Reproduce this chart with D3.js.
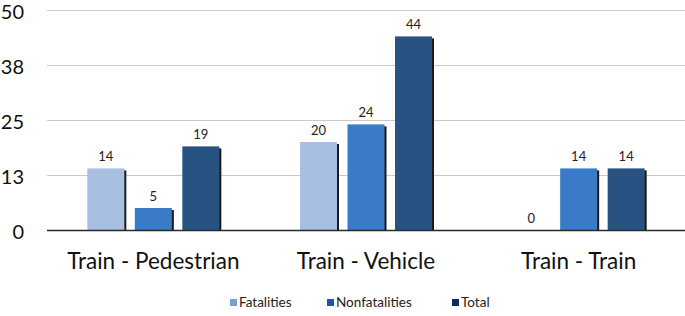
<!DOCTYPE html>
<html><head><meta charset="utf-8">
<script src="https://cdn.jsdelivr.net/npm/d3@7"></script>
<style>body{margin:0;background:#fff}svg{display:block}text{font-family:Lato,"Open Sans",sans-serif}</style>
</head><body><svg id="c" width="685" height="316"></svg>
<script>
const categories = ["Train - Pedestrian", "Train - Vehicle", "Train - Train"];
const seriesNames = ["Fatalities", "Nonfatalities", "Total"];
const fatalities = [14, 20, 0];
const nonfatalities = [5, 24, 14];
const totals = [19, 44, 14];
const tickValues = [0, 12.5, 25, 37.5, 50];
const tickLabels = ["0", "13", "25", "38", "50"];

const barColors = ["#a7bfe0", "#3a7bc8", "#285281"];
const legendColors = ["#7e9fd6", "#1f50b5", "#122b5e"];
const series = [fatalities, nonfatalities, totals];

const svg = d3.select("#c");
const plotL = 47, plotR = 685, plotT = 10, plotB = 230;

const x = d3.scaleBand().domain(categories).range([plotL, plotR]).padding(0);
const xi = d3.scaleBand().domain(seriesNames).range([-66, 66]).paddingInner(0.221).paddingOuter(0);
const y = d3.scaleLinear().domain([0, 50]).range([plotB, plotT]);

// gridlines
svg.append("g").selectAll("line").data(tickValues.filter(v => v > 0)).join("line")
  .attr("x1", plotL).attr("x2", plotR)
  .attr("y1", d => Math.round(y(d)) + 0.5).attr("y2", d => Math.round(y(d)) + 0.5)
  .attr("stroke", "#c9c9c9").attr("stroke-width", 1.2);

// y tick labels
const yAxis = d3.axisLeft(y).tickValues(tickValues).tickFormat((d, i) => tickLabels[i]).tickSize(0).tickPadding(0);
const ya = svg.append("g").attr("transform", "translate(24,1)").call(yAxis);
ya.select(".domain").remove();
ya.selectAll("text").attr("font-size", 20).attr("fill", "#111").attr("dy", "0.35em")
  .style("font-family", "Lato,'Open Sans',sans-serif");

// bars
const rows = [];
categories.forEach((c, ci) => seriesNames.forEach((s, si) => rows.push({c, s, si, v: series[si][ci]})));
const bx = d => x(d.c) + x.bandwidth() / 2 + xi(d.s);
const g = svg.append("g");
g.selectAll("rect.sh").data(rows.filter(d => d.v > 0)).join("rect").attr("class", "sh")
  .attr("x", d => bx(d) + 2).attr("y", d => y(d.v) + 2)
  .attr("width", xi.bandwidth()).attr("height", d => plotB - y(d.v) - 2)
  .attr("fill", "#1b1b1b");
g.selectAll("rect.b").data(rows.filter(d => d.v > 0)).join("rect").attr("class", "b")
  .attr("x", d => bx(d)).attr("y", d => y(d.v))
  .attr("width", xi.bandwidth()).attr("height", d => plotB - y(d.v))
  .attr("fill", d => barColors[d.si]);

// value labels
g.selectAll("text.v").data(rows).join("text").attr("class", "v")
  .attr("x", d => bx(d) + xi.bandwidth() / 2).attr("y", d => y(d.v) - 7)
  .attr("text-anchor", "middle").attr("font-size", 13).attr("fill", "#222")
  .text(d => d.v);

// baseline
svg.append("line").attr("x1", plotL).attr("x2", plotR).attr("y1", plotB + 0.5).attr("y2", plotB + 0.5)
  .attr("stroke", "#2a2a2a").attr("stroke-width", 1.3);

// category labels
const xAxis = d3.axisBottom(x).tickSize(0).tickPadding(0);
const xa = svg.append("g").attr("transform", `translate(0,${plotB})`).call(xAxis);
xa.select(".domain").remove();
xa.selectAll("text").attr("font-size", 22.5).attr("fill", "#111").attr("dy", "1.75em")
  .style("font-family", "Lato,'Open Sans',sans-serif");

// legend
const legendX = [230, 327, 452];
const lg = svg.append("g").selectAll("g").data(seriesNames).join("g")
  .attr("transform", (d, i) => `translate(${legendX[i]},0)`);
lg.append("rect").attr("x", 0).attr("y", 299).attr("width", 7).attr("height", 7)
  .attr("fill", (d, i) => legendColors[i]);
lg.append("text").attr("x", 9).attr("y", 307).attr("font-size", 13.5).attr("fill", "#222").text(d => d);
</script></body></html>
